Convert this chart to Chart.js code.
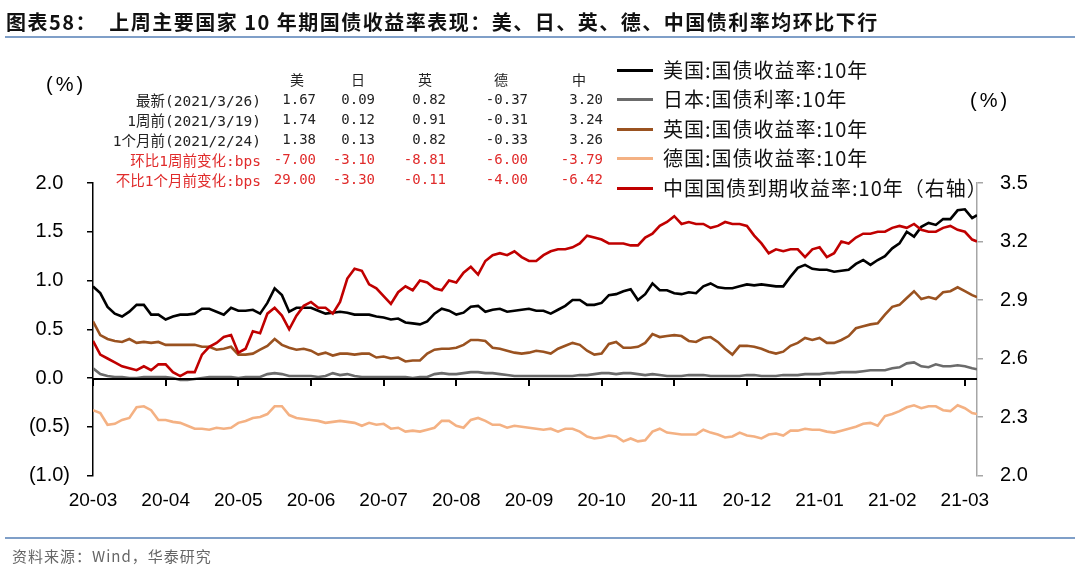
<!DOCTYPE html>
<html>
<head>
<meta charset="utf-8">
<script src="https://cdn.jsdelivr.net/npm/chart.js@4.4.1/dist/chart.umd.min.js"></script>
<style>
body { margin: 0; background: #fff; }
#wrap { position: relative; width: 1080px; height: 570px; overflow: hidden;
        font-family: "Liberation Sans", Arial, "Noto Sans CJK SC", sans-serif; color: #000; }
#chart { position: absolute; left: 0; top: 0; }
.t { position: absolute; white-space: nowrap; line-height: 1; }
.title { left: 6px; top: 7px; font: bold 20px "Noto Sans CJK SC", sans-serif; letter-spacing: 1.5px; color: #111; }
.rule { position: absolute; left: 5px; width: 1070px; height: 2px; background: #7f9fc8; }
.cell { position: absolute; white-space: nowrap; font: 14px "DejaVu Sans Mono", "Noto Sans CJK SC", monospace;
        transform: translateY(-50%); color: #222; }
.cell.lbl { font-size: 14.5px; }
.red { color: #e02b2b; }
.leg { position: absolute; left: 617px; }
.leg .ln { position: absolute; left: 0; width: 36px; height: 3px; top: -1px; }
.leg .tx { position: absolute; left: 46px; top: -11px; font: 20px "Noto Sans CJK SC", "Liberation Sans", sans-serif;
           letter-spacing: 1px; white-space: nowrap; line-height: 1.1; color: #111; }
.unit { font-size: 20px; letter-spacing: 3px; }
.src { left: 12px; top: 545px; font: 15px "Noto Sans CJK SC", sans-serif; color: #666; letter-spacing: 1px; }
</style>
</head>
<body>
<div id="wrap">
  <canvas id="chart" width="1080" height="570"></canvas>
  <div class="t title">图表58：&nbsp; 上周主要国家 10 年期国债收益率表现：美、日、英、德、中国债利率均环比下行</div>
  <div class="rule" style="top:36px"></div>
  <div class="t unit" style="left:46px; top:74px">(%)</div>
  <div class="t unit" style="left:970px; top:90px">(%)</div>
  <div id="table"></div>
  <div id="legend"></div>
  <div class="rule" style="top:537px; height:1.5px"></div>
  <div class="t src">资料来源：Wind，华泰研究</div>
</div>
<script>
// x positions: days since 2020-03-26
const days = [0,3,6,9,12,15,18,21,24,27,30,33,36,39,42,45,48,51,54,57,60,63,66,69,72,75,78,81,84,87,90,
  93,96,99,102,105,108,111,114,117,120,123,126,129,132,135,138,141,144,147,150,153,156,159,162,165,168,171,174,177,180,183,
  186,189,192,195,198,201,204,207,210,213,216,219,222,225,228,231,234,237,240,243,246,249,252,255,258,261,264,267,270,273,
  276,279,282,285,288,291,294,297,300,303,306,309,312,315,318,321,324,327,330,333,336,339,342,345,348,351,354,357,360,363,365];

const tickDays = [0,30,60,90,120,150,180,210,240,270,300,330,360];
const monthLabels = ["20-03","20-04","20-05","20-06","20-07","20-08","20-09","20-10","20-11","20-12","21-01","21-02","21-03"];
const leftTicks = [-1.0,-0.5,0,0.5,1.0,1.5,2.0];
const rightTicks = [2.0,2.3,2.6,2.9,3.2,3.5];

const usYield = [0.94,0.87,0.73,0.66,0.63,0.68,0.75,0.75,0.65,0.65,0.60,0.63,0.65,0.65,0.66,0.71,0.71,0.68,0.65,0.72,0.69,0.69,0.70,0.66,0.77,0.92,0.85,0.68,0.72,0.72,0.72,
  0.69,0.66,0.67,0.68,0.67,0.65,0.65,0.65,0.63,0.62,0.60,0.61,0.57,0.56,0.55,0.58,0.66,0.71,0.69,0.65,0.67,0.73,0.74,0.68,0.70,0.71,0.68,0.69,0.70,0.71,0.69,
  0.69,0.66,0.70,0.74,0.80,0.80,0.75,0.75,0.77,0.85,0.86,0.89,0.91,0.80,0.86,0.97,0.90,0.90,0.87,0.86,0.88,0.87,0.94,0.97,0.93,0.92,0.92,0.94,0.96,0.95,
  0.96,0.95,0.94,0.94,1.04,1.13,1.16,1.12,1.11,1.11,1.09,1.10,1.11,1.17,1.21,1.16,1.21,1.25,1.33,1.38,1.50,1.45,1.55,1.59,1.57,1.63,1.63,1.72,1.73,1.64,1.67];

const jpYield = [0.10,0.04,0.02,0.01,0.01,0.00,0.00,0.01,0.01,0.01,0.01,0.00,-0.02,-0.02,-0.01,0.00,0.01,0.01,0.01,0.01,0.00,0.01,0.01,0.01,0.04,0.05,0.04,0.02,0.02,0.02,0.02,
  0.01,0.02,0.05,0.03,0.04,0.02,0.01,0.01,0.01,0.01,0.01,0.01,0.01,0.00,0.01,0.01,0.04,0.05,0.04,0.04,0.05,0.06,0.06,0.05,0.05,0.04,0.03,0.02,0.02,0.02,0.02,
  0.02,0.02,0.02,0.02,0.02,0.03,0.03,0.04,0.05,0.05,0.04,0.05,0.05,0.04,0.03,0.04,0.03,0.02,0.02,0.02,0.03,0.03,0.03,0.02,0.02,0.02,0.02,0.02,0.03,0.03,
  0.02,0.02,0.02,0.03,0.03,0.03,0.04,0.04,0.04,0.05,0.05,0.06,0.06,0.06,0.07,0.08,0.08,0.08,0.10,0.11,0.15,0.16,0.12,0.11,0.14,0.12,0.12,0.13,0.12,0.10,0.09];

const ukYield = [0.58,0.44,0.40,0.38,0.37,0.40,0.36,0.37,0.36,0.37,0.34,0.34,0.34,0.34,0.34,0.32,0.32,0.29,0.30,0.32,0.24,0.24,0.25,0.29,0.33,0.40,0.34,0.31,0.29,0.30,0.28,
  0.24,0.26,0.23,0.25,0.25,0.24,0.25,0.25,0.21,0.22,0.20,0.21,0.17,0.18,0.18,0.25,0.29,0.30,0.30,0.31,0.34,0.39,0.39,0.38,0.31,0.30,0.28,0.26,0.25,0.26,0.28,
  0.27,0.25,0.30,0.33,0.36,0.34,0.28,0.24,0.25,0.35,0.37,0.31,0.31,0.32,0.36,0.45,0.42,0.43,0.44,0.43,0.38,0.37,0.41,0.42,0.37,0.30,0.24,0.33,0.33,0.32,
  0.30,0.27,0.25,0.27,0.33,0.36,0.41,0.39,0.41,0.36,0.36,0.39,0.43,0.51,0.53,0.55,0.56,0.65,0.73,0.75,0.82,0.89,0.81,0.83,0.81,0.88,0.89,0.93,0.89,0.85,0.83];

const deYield = [-0.33,-0.36,-0.48,-0.47,-0.43,-0.41,-0.30,-0.29,-0.33,-0.43,-0.43,-0.45,-0.46,-0.49,-0.52,-0.52,-0.53,-0.51,-0.52,-0.51,-0.46,-0.44,-0.41,-0.40,-0.37,-0.29,-0.29,-0.38,-0.41,-0.42,-0.43,
  -0.44,-0.46,-0.45,-0.44,-0.45,-0.46,-0.49,-0.46,-0.48,-0.47,-0.52,-0.51,-0.55,-0.54,-0.55,-0.53,-0.51,-0.44,-0.44,-0.49,-0.51,-0.43,-0.41,-0.44,-0.48,-0.48,-0.51,-0.49,-0.50,-0.51,-0.52,
  -0.53,-0.52,-0.55,-0.52,-0.52,-0.55,-0.60,-0.62,-0.61,-0.59,-0.60,-0.65,-0.62,-0.65,-0.64,-0.55,-0.52,-0.56,-0.57,-0.58,-0.58,-0.58,-0.53,-0.56,-0.58,-0.61,-0.60,-0.56,-0.59,-0.60,
  -0.62,-0.58,-0.57,-0.59,-0.54,-0.54,-0.52,-0.53,-0.53,-0.55,-0.56,-0.54,-0.52,-0.50,-0.47,-0.46,-0.49,-0.39,-0.37,-0.34,-0.30,-0.28,-0.31,-0.29,-0.29,-0.33,-0.34,-0.28,-0.31,-0.36,-0.37];

const cnYield = [2.69,2.62,2.60,2.58,2.56,2.55,2.54,2.56,2.54,2.57,2.57,2.53,2.51,2.53,2.53,2.62,2.66,2.68,2.71,2.72,2.63,2.65,2.74,2.73,2.83,2.86,2.82,2.75,2.82,2.87,2.89,
  2.86,2.86,2.83,2.89,3.01,3.06,3.05,2.98,2.96,2.92,2.88,2.94,2.97,2.95,3.00,2.99,2.96,2.95,3.00,2.99,3.04,3.07,3.03,3.10,3.13,3.14,3.13,3.15,3.12,3.10,3.10,
  3.13,3.15,3.16,3.16,3.17,3.19,3.23,3.22,3.21,3.19,3.19,3.19,3.18,3.18,3.22,3.24,3.28,3.30,3.33,3.29,3.30,3.29,3.29,3.27,3.28,3.30,3.29,3.29,3.28,3.23,
  3.19,3.14,3.16,3.15,3.16,3.16,3.12,3.16,3.17,3.12,3.14,3.20,3.19,3.22,3.24,3.24,3.25,3.25,3.27,3.28,3.27,3.29,3.26,3.25,3.25,3.27,3.28,3.26,3.25,3.21,3.20];

// table at top left
const tableHeads = ["美","日","英","德","中"];
const rowLabels = ["最新(2021/3/26)","1周前(2021/3/19)","1个月前(2021/2/24)","环比1周前变化:bps","不比1个月前变化:bps"];
const latestRow = [1.67,0.09,0.82,-0.37,3.20];
const weekAgoRow = [1.74,0.12,0.91,-0.31,3.24];
const monthAgoRow = [1.38,0.13,0.82,-0.33,3.26];
const weekChangeRow = [-7.00,-3.10,-8.81,-6.00,-3.79];
const monthChangeRow = [29.00,-3.30,-0.11,-4.00,-6.42];

const seriesNames = ["美国:国债收益率:10年","日本:国债利率:10年","英国:国债收益率:10年","德国:国债收益率:10年","中国国债到期收益率:10年（右轴）"];
const seriesColors = ["#000000","#6b6b6b","#9a5220","#f4b183","#c00000"];

// ---- table ----
const tbl = document.getElementById("table");
const colRight = [316,375,446,528,603];
const headCenter = [297,358,425,501,579];
const rowY = [79,99,119,139,159,179];
function cell(text, x, y, cls, align) {
    const d = document.createElement("div");
    d.className = "cell " + (cls || "");
    d.textContent = text;
    d.style.top = y + "px";
    if (align === "center") { d.style.left = x + "px"; d.style.transform = "translate(-50%,-50%)"; }
    else d.style.right = (1080 - x) + "px";
    tbl.appendChild(d);
}
tableHeads.forEach((h, i) => cell(h, headCenter[i], rowY[0], "", "center"));
[latestRow, weekAgoRow, monthAgoRow, weekChangeRow, monthChangeRow].forEach((row, r) => {
    const cls = r >= 3 ? "red" : "";
    cell(rowLabels[r], 261, rowY[r + 1], cls + " lbl");
    row.forEach((v, i) => cell(v.toFixed(2), colRight[i], rowY[r + 1], cls));
});

// ---- legend ----
const leg = document.getElementById("legend");
const legY = [70,99,129,158,188];
seriesNames.forEach((name, i) => {
    const d = document.createElement("div");
    d.className = "leg";
    d.style.top = legY[i] + "px";
    d.innerHTML = '<div class="ln" style="background:' + seriesColors[i] + '"></div><div class="tx">' + name + '</div>';
    leg.appendChild(d);
});

// ---- chart ----
const toPoints = arr => arr.map((v, i) => ({ x: days[i], y: v }));
const setTicks = list => scale => { scale.ticks = list.map(v => ({ value: v })); };

// horizontal axis line at y = 0 with month tick marks hanging below it
const zeroAxis = {
    id: "zeroAxis",
    afterDatasetsDraw(chart) {
        const { ctx, chartArea, scales } = chart;
        const y0 = Math.round(scales.y.getPixelForValue(0)) + 1;
        ctx.save();
        ctx.strokeStyle = "#000";
        ctx.lineWidth = 2;
        ctx.beginPath();
        ctx.moveTo(chartArea.left, y0);
        ctx.lineTo(chartArea.right, y0);
        tickDays.forEach(d => {
            const x = Math.round(scales.x.getPixelForValue(d));
            ctx.moveTo(x, y0);
            ctx.lineTo(x, y0 + 7);
        });
        ctx.stroke();
        ctx.restore();
    }
};

new Chart(document.getElementById("chart"), {
    type: "line",
    data: {
        datasets: [
            { label: seriesNames[0], data: toPoints(usYield), borderColor: seriesColors[0], yAxisID: "y", order: 1 },
            { label: seriesNames[1], data: toPoints(jpYield), borderColor: seriesColors[1], yAxisID: "y", order: 3 },
            { label: seriesNames[2], data: toPoints(ukYield), borderColor: seriesColors[2], yAxisID: "y", order: 2 },
            { label: seriesNames[3], data: toPoints(deYield), borderColor: seriesColors[3], yAxisID: "y", order: 4 },
            { label: seriesNames[4], data: toPoints(cnYield), borderColor: seriesColors[4], yAxisID: "y2", order: 0 }
        ]
    },
    options: {
        responsive: false,
        animation: false,
        parsing: false,
        layout: { padding: { top: 183, left: 0, right: 0, bottom: 0 } },
        elements: {
            line: { borderWidth: 2.6, tension: 0 },
            point: { radius: 0 }
        },
        plugins: { legend: { display: false }, tooltip: { enabled: false } },
        scales: {
            x: {
                type: "linear", min: 0, max: 365,
                afterBuildTicks: setTicks(tickDays),
                afterFit: s => { s.height = 94.5; },
                border: { display: false },
                grid: { display: false, drawTicks: false },
                ticks: {
                    padding: 14, color: "#000", maxRotation: 0, autoSkip: false,
                    font: { family: "Liberation Sans", size: 19 },
                    callback: (v, i) => monthLabels[i]
                }
            },
            y: {
                position: "left", min: -1, max: 2,
                afterBuildTicks: setTicks(leftTicks),
                afterFit: s => { s.width = 93; },
                border: { display: true, color: "#000", width: 1.5 },
                grid: { drawOnChartArea: false, drawTicks: true, tickLength: 6, color: "#000", lineWidth: 1.5 },
                ticks: {
                    padding: 17, color: "#000", crossAlign: "center",
                    font: { family: "Liberation Sans", size: 20 },
                    callback: v => v < 0 ? "(" + Math.abs(v).toFixed(1) + ")" : v.toFixed(1)
                }
            },
            y2: {
                position: "right", min: 2.0, max: 3.5,
                afterBuildTicks: setTicks(rightTicks),
                afterFit: s => { s.width = 103; },
                border: { display: true, color: "#a6a6a6", width: 1.5 },
                grid: { drawOnChartArea: false, drawTicks: true, tickLength: 6, color: "#a6a6a6", lineWidth: 1.5 },
                ticks: {
                    padding: 17, color: "#000",
                    font: { family: "Liberation Sans", size: 20 },
                    callback: v => v.toFixed(1)
                }
            }
        }
    },
    plugins: [zeroAxis]
});
</script>
</body>
</html>
